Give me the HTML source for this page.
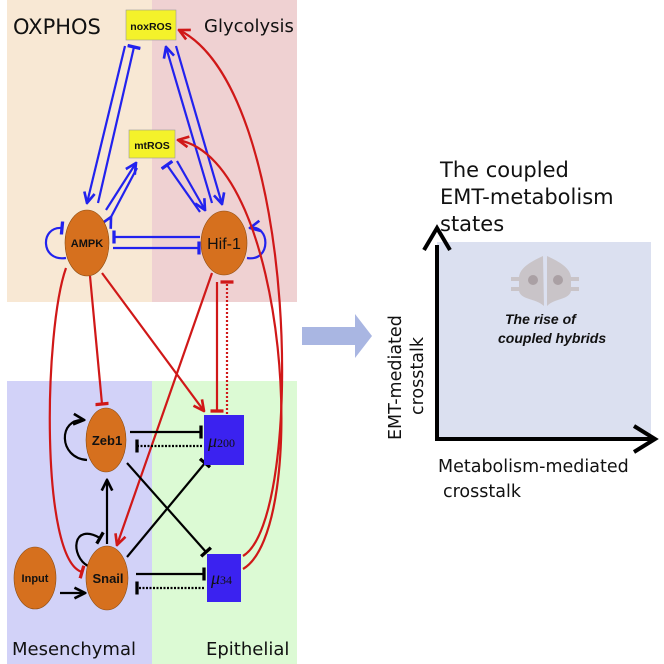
<!DOCTYPE html>
<html><head><meta charset="utf-8"><style>
html,body{margin:0;padding:0;background:#fff;}
svg{display:block;font-family:"Liberation Sans","DejaVu Sans",sans-serif;}
</style></head><body>
<svg width="664" height="664" viewBox="0 0 664 664" xmlns="http://www.w3.org/2000/svg">
<defs>
<marker id="ab" viewBox="0 0 10 10" refX="9" refY="5" markerWidth="6" markerHeight="6" orient="auto"><path d="M1,1 L9,5 L1,9" fill="none" stroke="#2222ee" stroke-width="2"/></marker>
<marker id="tb" viewBox="0 0 10 10" refX="5" refY="5" markerWidth="6" markerHeight="6" orient="auto"><path d="M5,0 L5,10" stroke="#2222ee" stroke-width="2.5"/></marker>
<marker id="ar" viewBox="0 0 10 10" refX="9" refY="5" markerWidth="6" markerHeight="6" orient="auto"><path d="M1,1 L9,5 L1,9" fill="none" stroke="#d01818" stroke-width="2"/></marker>
<marker id="tr" viewBox="0 0 10 10" refX="5" refY="5" markerWidth="6" markerHeight="6" orient="auto"><path d="M5,0 L5,10" stroke="#d01818" stroke-width="2.5"/></marker>
<marker id="ak" viewBox="0 0 10 10" refX="9" refY="5" markerWidth="6" markerHeight="6" orient="auto"><path d="M1,1 L9,5 L1,9" fill="none" stroke="#000" stroke-width="2"/></marker>
<marker id="tk" viewBox="0 0 10 10" refX="5" refY="5" markerWidth="6" markerHeight="6" orient="auto"><path d="M5,0 L5,10" stroke="#000" stroke-width="2.5"/></marker>
</defs>
<rect x="7" y="0" width="145" height="302" fill="#f8e8d4"/>
<rect x="152" y="0" width="145" height="302" fill="#efd1d2"/>
<rect x="7" y="381" width="145" height="283" fill="#d2d2f8"/>
<rect x="152" y="381" width="145" height="283" fill="#dcfad4"/>
<g font-family="DejaVu Sans,sans-serif" fill="#111">
<text x="13" y="34" font-size="21">OXPHOS</text>
<text x="204" y="32" font-size="18">Glycolysis</text>
<text x="12" y="655" font-size="18">Mesenchymal</text>
<text x="206" y="655" font-size="18">Epithelial</text>
</g>

<g stroke="#2222ee" stroke-width="2.2" fill="none">
<line x1="125" y1="46" x2="87" y2="203" marker-end="url(#ab)"/>
<line x1="98" y1="203" x2="134" y2="47" marker-end="url(#tb)"/>
<line x1="106" y1="210" x2="136" y2="163" marker-end="url(#ab)"/>
<line x1="111" y1="217" x2="137" y2="168" marker-start="url(#ab)"/>
<line x1="200" y1="212" x2="167" y2="165" marker-end="url(#tb)"/>
<line x1="177" y1="161" x2="205" y2="210" marker-end="url(#ab)"/>
<line x1="212" y1="203" x2="166" y2="47" marker-end="url(#ab)"/>
<line x1="176" y1="46" x2="222" y2="204" marker-end="url(#ab)"/>
<line x1="200" y1="237" x2="114" y2="237" marker-end="url(#tb)"/>
<line x1="113" y1="248" x2="199" y2="248" marker-end="url(#tb)"/>
<path d="M66,258 C40,262 40,226 62,228" marker-end="url(#tb)"/>
<path d="M247,258 C272,262 270,224 250,228" marker-end="url(#ab)"/>
</g>

<g stroke="#d01818" stroke-width="2.2" fill="none">
<path d="M243,556 C305,520 300,90 179,30" marker-end="url(#ar)"/>
<path d="M243,569 C310,530 290,160 178,140" marker-end="url(#ar)"/>
<line x1="90" y1="276" x2="102" y2="404" marker-end="url(#tr)"/>
<line x1="102" y1="273" x2="204" y2="411" marker-end="url(#ar)"/>
<path d="M66,268 C44,330 40,560 82,572" marker-end="url(#tr)"/>
<line x1="212" y1="273" x2="117" y2="545" marker-end="url(#ar)"/>
<line x1="217" y1="282" x2="217" y2="411" marker-end="url(#tr)"/>
<line x1="227" y1="414" x2="227" y2="282" stroke-dasharray="2,2" marker-end="url(#tr)"/>
</g>

<g stroke="#000" stroke-width="2.2" fill="none">
<line x1="130" y1="432" x2="201" y2="432" marker-end="url(#tk)"/>
<line x1="202" y1="446" x2="137" y2="446" stroke-dasharray="2,1.5" marker-end="url(#tk)"/>
<line x1="127" y1="463" x2="206" y2="552" marker-end="url(#tk)"/>
<line x1="127" y1="557" x2="205" y2="463" marker-end="url(#tk)"/>
<line x1="107" y1="544" x2="107" y2="480" marker-end="url(#ak)"/>
<line x1="136" y1="574" x2="204" y2="574" marker-end="url(#tk)"/>
<line x1="204" y1="588" x2="137" y2="588" stroke-dasharray="2,1.5" marker-end="url(#tk)"/>
<line x1="60" y1="593" x2="85" y2="593" marker-end="url(#ak)"/>
<path d="M87,460 C58,458 58,418 84,420" marker-end="url(#ak)"/>
<path d="M88,566 C70,556 72,522 100,538" marker-end="url(#tk)"/>
</g>

<g fill="#d6701e" stroke="#8a4a10" stroke-width="0.6">
<ellipse cx="87" cy="243" rx="22" ry="33"/>
<ellipse cx="224" cy="243" rx="23" ry="32"/>
<ellipse cx="106" cy="440" rx="20" ry="32"/>
<ellipse cx="107" cy="578" rx="21" ry="32"/>
<ellipse cx="35" cy="578" rx="21" ry="31"/>
</g>
<rect x="126" y="10" width="50" height="30" fill="#f4f22a" stroke="#999" stroke-width="0.6"/>
<rect x="129" y="130" width="46" height="28" fill="#f4f22a" stroke="#999" stroke-width="0.6"/>
<rect x="204" y="415" width="40" height="50" fill="#3b22f0"/>
<rect x="207" y="554" width="34" height="48" fill="#3b22f0"/>
<g font-weight="bold" fill="#111" text-anchor="middle">
<text x="151" y="30" font-size="10.5">noxROS</text>
<text x="152" y="149" font-size="10.5">mtROS</text>
<text x="87" y="247" font-size="11">AMPK</text>
<text x="224" y="249" font-size="16" font-weight="normal">Hif-1</text>
<text x="107" y="445" font-size="13">Zeb1</text>
<text x="108" y="583" font-size="13">Snail</text>
<text x="35" y="582" font-size="11">Input</text>
</g>
<text x="208" y="447" font-size="18" font-style="italic" font-family="Liberation Serif,serif" fill="#111">μ<tspan font-size="12" font-style="normal">200</tspan></text>
<text x="211" y="584" font-size="18" font-style="italic" font-family="Liberation Serif,serif" fill="#111">μ<tspan font-size="12" font-style="normal">34</tspan></text>

<path d="M302,327 L355,327 L355,314 L372,336 L355,358 L355,345 L302,345 Z" fill="#a9b6e2"/>

<rect x="437" y="242" width="214" height="198" fill="#dbe0f0"/>
<g fill="#c9c4c8">
<path d="M543,256 C530,262 520,268 519,277 L511,277 L511,281 L519,281 L519,287 L511,287 L511,291 L519,291 C521,300 535,298 544,306 Z"/>
<path d="M547,256 C560,262 570,268 571,277 L579,277 L579,281 L571,281 L571,287 L579,287 L579,291 L571,291 C569,300 555,298 547,306 Z"/>
</g>
<circle cx="533" cy="280" r="5" fill="#aaa0a4"/><circle cx="558" cy="280" r="5" fill="#aaa0a4"/>
<text x="505" y="324" font-size="14" font-weight="bold" font-style="italic" fill="#111">The rise of</text>
<text x="498" y="343" font-size="14" font-weight="bold" font-style="italic" fill="#111">coupled hybrids</text>
<line x1="437" y1="441" x2="437" y2="245" stroke="#000" stroke-width="4"/>
<path d="M424,250 L437,228 L450,250" fill="none" stroke="#000" stroke-width="4"/>
<line x1="435" y1="439" x2="652" y2="439" stroke="#000" stroke-width="4"/>
<path d="M634,426 L655,439 L634,452" fill="none" stroke="#000" stroke-width="4"/>
<g font-size="21" fill="#111" font-family="DejaVu Sans,sans-serif">
<text x="440" y="177">The coupled</text>
<text x="440" y="204">EMT-metabolism</text>
<text x="440" y="231">states</text>
<text x="438" y="472" font-size="17.5">Metabolism-mediated</text>
<text x="443" y="497" font-size="17.5">crosstalk</text>
<text transform="translate(401,440) rotate(-90)" font-size="17.5">EMT-mediated</text>
<text transform="translate(423,415) rotate(-90)" font-size="17.5">crosstalk</text>
</g>
</svg>
</body></html>
